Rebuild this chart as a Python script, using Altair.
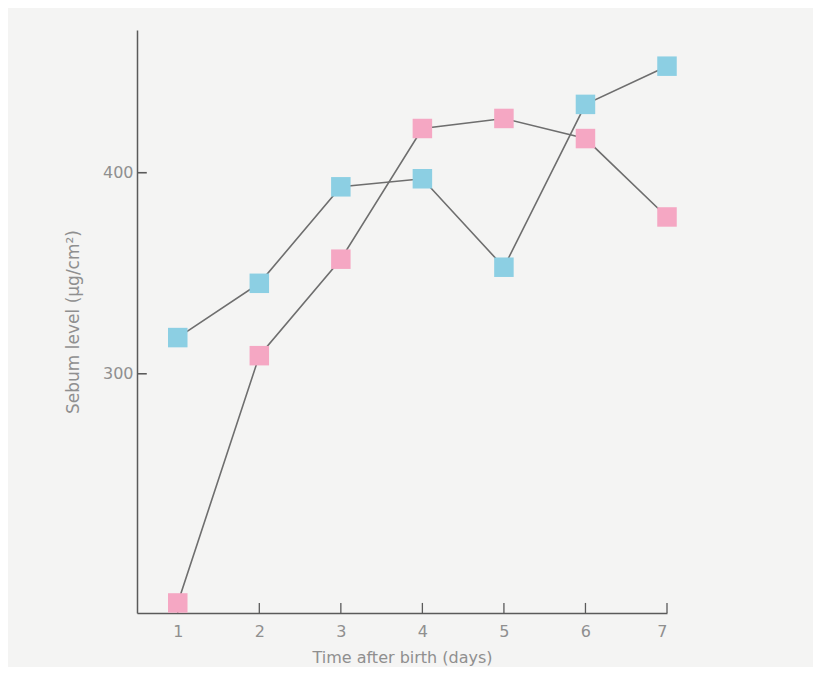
import altair as alt
import pandas as pd

days = [1, 2, 3, 4, 5, 6, 7]
blue = [318, 345, 393, 397, 353, 434, 453]
pink = [186, 309, 357, 422, 427, 417, 378]
y_tick_values = [300, 400]

df = pd.DataFrame({
    "day": days * 2,
    "value": blue + pink,
    "series": ["blue"] * 7 + ["pink"] * 7,
})
ticks_df = pd.DataFrame({"day": days, "y0": [181] * 7, "y1": [186] * 7})
yticks_df = pd.DataFrame({"tv": y_tick_values, "x0": [0.5, 0.5], "x1": [0.62, 0.62]})

X_DOM = [0.5, 7]
Y_DOM = [181, 471]
AXIS_COLOR = "#5a5a5a"
TEXT_COLOR = "#8f8f8f"
FONT = "DejaVu Sans"

xs = alt.Scale(domain=X_DOM, nice=False, zero=False)
ys = alt.Scale(domain=Y_DOM, nice=False, zero=False)

x_enc = alt.X("day:Q", scale=xs,
              axis=alt.Axis(values=days, format="d", tickSize=0, labelPadding=10,
                            title="Time after birth (days)", titlePadding=10,
                            titleFontSize=16,
                            domainColor=AXIS_COLOR, domainWidth=1.5, grid=False))
y_enc = alt.Y("value:Q", scale=ys,
              axis=alt.Axis(values=y_tick_values, tickSize=0, labelPadding=4,
                            title="Sebum level (μg/cm²)", titlePadding=20,
                            titleFontSize=17,
                            domainColor=AXIS_COLOR, domainWidth=1.5, grid=False))

lines = alt.Chart(df).mark_line(color="#6e6e6e", strokeWidth=1.6).encode(
    x=x_enc, y=y_enc, detail="series:N")

points = alt.Chart(df).mark_square(size=380, opacity=1).encode(
    x="day:Q", y="value:Q",
    color=alt.Color("series:N", scale=alt.Scale(domain=["blue", "pink"],
                                                range=["#8ccfe3", "#f5a7c3"]),
                    legend=None))

xticks = alt.Chart(ticks_df).mark_rule(color=AXIS_COLOR, strokeWidth=1.3).encode(
    x="day:Q", y="y0:Q", y2="y1:Q")

yticks = alt.Chart(yticks_df).mark_rule(color=AXIS_COLOR, strokeWidth=1.6).encode(
    y=alt.Y("tv:Q"), x=alt.X("x0:Q"), x2="x1:Q")

chart = alt.layer(lines, xticks, points, yticks).properties(
    width=530, height=583,
    background="#f4f4f3",
    padding={"left": 129, "top": 22, "right": 146, "bottom": 54},
    autosize=alt.AutoSizeParams(type="none"),
).configure_view(stroke=None).configure_axis(
    labelFont=FONT, titleFont=FONT,
    labelColor=TEXT_COLOR, titleColor=TEXT_COLOR,
    labelFontSize=16, titleFontWeight="normal",
)

chart.save("out.html", embed_options={"renderer": "svg", "actions": False})
